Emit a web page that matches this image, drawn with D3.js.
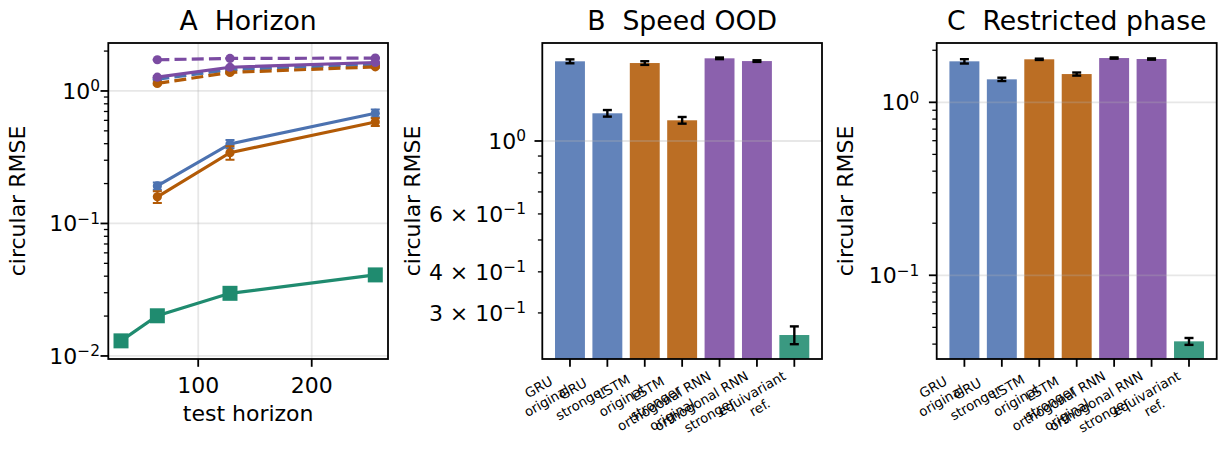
<!DOCTYPE html>
<html>
<head>
<meta charset="utf-8">
<script src="https://cdn.jsdelivr.net/npm/d3@7"></script>
<style>
  html, body { margin: 0; padding: 0; background: #fff; }
  text { font-family: "DejaVu Sans", sans-serif; fill: #000; }
</style>
</head>
<body>
<svg id="fig" width="1225" height="449"></svg>
<script>
// ---------- data ----------
// Panel A: error vs. test horizon
const horizons = [32, 64, 128, 256];
const gruOriginal      = [null, 1.225, 1.45, 1.59];
const gruOriginalErr   = [null, 0.02, 0.02, 0.02];
const gruStronger      = [null, 0.192, 0.398, 0.679];
const gruStrongerErr   = [null, 0.012, 0.028, 0.045];
const lstmOriginal     = [null, 1.14, 1.38, 1.52];
const lstmOriginalErr  = [null, 0.02, 0.02, 0.02];
const lstmStronger     = [null, 0.159, 0.342, 0.583];
const lstmStrongerErr  = [null, 0.016, 0.04, 0.04];
const orthOriginal     = [null, 1.72, 1.76, 1.77];
const orthOriginalErr  = [null, 0.01, 0.01, 0.01];
const orthStronger     = [null, 1.27, 1.51, 1.64];
const orthStrongerErr  = [null, 0.02, 0.02, 0.02];
const equivariant      = [0.0130, 0.0201, 0.0297, 0.0409];

// Panels B and C: one bar per model
const models = [
  ["GRU", "original"],
  ["GRU", "stronger"],
  ["LSTM", "original"],
  ["LSTM", "stronger"],
  ["orthogonal RNN", "original"],
  ["orthogonal RNN", "stronger"],
  ["equivariant", "ref."]
];
const speedOOD        = [1.747, 1.214, 1.726, 1.156, 1.784, 1.75, 0.257];
const speedOODErr     = [0.024, 0.028, 0.022, 0.027, 0.01, 0.01, 0.016];
const restricted      = [1.726, 1.358, 1.773, 1.457, 1.803, 1.78, 0.0415];
const restrictedErr   = [0.05, 0.03, 0.015, 0.03, 0.015, 0.015, 0.0019];

// tick values
const xTicksA = [100, 200];
const yLabeledA = [0.01, 0.1, 1];
const yLabeledB = [0.3, 0.4, 0.6, 1];
const yLabeledC = [0.1, 1];

// ---------- styling ----------
const C = {
  blue: "#4c72b0",
  orange: "#b25a06",
  purple: "#7b4ba2",
  green: "#1f8b6f"
};
const modelColors = [C.blue, C.blue, C.orange, C.orange, C.purple, C.purple, C.green];

const FS_TICK = 22, FS_LABEL = 22, FS_TITLE = 26.7, FS_CAT = 13.3;
const MAJOR_LEN = 7.8, MINOR_LEN = 4.4;

const svg = d3.select("#fig");

const panels = {
  A: { left: 108.3, right: 388, top: 43, bottom: 359, yDom: [Math.pow(10, -2.023), Math.pow(10, 0.362)], labelGap: 8.5, ylabelX: 17.5 },
  B: { left: 542.3, right: 822, top: 43, bottom: 359, yDom: [Math.pow(10, -0.663), Math.pow(10, 0.298)], labelGap: 16.5, ylabelX: 412.5 },
  C: { left: 936.7, right: 1216.7, top: 43, bottom: 359, yDom: [Math.pow(10, -1.484), Math.pow(10, 0.343)], labelGap: 17.5, ylabelX: 845.5 }
};

function logTicks(dom) {
  const out = [];
  const e0 = Math.floor(Math.log10(dom[0])), e1 = Math.ceil(Math.log10(dom[1]));
  for (let e = e0; e <= e1; e++) {
    for (let k = 1; k <= 9; k++) {
      const v = k * Math.pow(10, e);
      if (v >= dom[0] * 0.9999 && v <= dom[1] * 1.0001) out.push({ v, major: k === 1 });
    }
  }
  return out;
}

function sciParts(v) {
  const e = Math.floor(Math.log10(v) + 1e-9);
  const m = Math.round(v / Math.pow(10, e));
  return { m, e };
}

// light grid at the major (decade) ticks
function drawYGrid(g, p, y) {
  const ticks = logTicks(p.yDom);
  g.selectAll(null).data(ticks.filter(t => t.major)).enter().append("line")
    .attr("x1", p.left).attr("x2", p.right)
    .attr("y1", d => y(d.v)).attr("y2", d => y(d.v))
    .attr("stroke", "#b0b0b0").attr("stroke-opacity", 0.3).attr("stroke-width", 1.8);
  return ticks;
}

function drawYTicks(g, p, y, ticks, labeled) {
  g.selectAll(null).data(ticks).enter().append("line")
    .attr("x1", d => p.left - (d.major ? MAJOR_LEN : MINOR_LEN)).attr("x2", p.left)
    .attr("y1", d => y(d.v)).attr("y2", d => y(d.v))
    .attr("stroke", "#000").attr("stroke-width", d => d.major ? 1.8 : 1.3);
  labeled.forEach(v => {
    const { m, e } = sciParts(v);
    const t = g.append("text")
      .attr("x", p.left - MAJOR_LEN - p.labelGap + 8)
      .attr("y", y(v) + 8)
      .attr("text-anchor", "end")
      .attr("font-size", FS_TICK);
    t.append("tspan").text(m === 1 ? "10" : m + " \u00d7 10");
    t.append("tspan").attr("dy", -7.5).attr("font-size", FS_TICK * 0.7)
      .text(e < 0 ? "\u2212" + (-e) : String(e));
  });
}

function frame(g, p) {
  g.append("rect")
    .attr("x", p.left).attr("y", p.top)
    .attr("width", p.right - p.left).attr("height", p.bottom - p.top)
    .attr("fill", "none").attr("stroke", "#000").attr("stroke-width", 1.8);
}

function titleAndYLabel(g, p, title) {
  g.append("text")
    .attr("x", (p.left + p.right) / 2).attr("y", 30)
    .attr("text-anchor", "middle").attr("font-size", FS_TITLE)
    .style("white-space", "pre")
    .text(title);
  g.append("text")
    .attr("transform", `translate(${p.ylabelX},${(p.top + p.bottom) / 2}) rotate(-90)`)
    .attr("text-anchor", "middle").attr("dominant-baseline", "central")
    .attr("font-size", FS_LABEL)
    .text("circular RMSE");
}

// ---------- Panel A ----------
(function () {
  const p = panels.A;
  const g = svg.append("g");
  const x = d3.scaleLinear().domain([20.8, 267.2]).range([p.left, p.right]);
  const y = d3.scaleLog().domain(p.yDom).range([p.bottom, p.top]);

  const clipId = "clipA";
  svg.append("clipPath").attr("id", clipId).append("rect")
    .attr("x", p.left).attr("y", p.top).attr("width", p.right - p.left).attr("height", p.bottom - p.top);

  const ticks = drawYGrid(g, p, y);
  g.selectAll(null).data(xTicksA).enter().append("line")
    .attr("x1", d => x(d)).attr("x2", d => x(d))
    .attr("y1", p.top).attr("y2", p.bottom)
    .attr("stroke", "#b0b0b0").attr("stroke-opacity", 0.3).attr("stroke-width", 1.8);

  const series = [
    { vals: gruOriginal, err: gruOriginalErr, color: C.blue, dash: true },
    { vals: gruStronger, err: gruStrongerErr, color: C.blue, dash: false },
    { vals: lstmOriginal, err: lstmOriginalErr, color: C.orange, dash: true },
    { vals: lstmStronger, err: lstmStrongerErr, color: C.orange, dash: false },
    { vals: orthOriginal, err: orthOriginalErr, color: C.purple, dash: true },
    { vals: orthStronger, err: orthStrongerErr, color: C.purple, dash: false }
  ];

  const plot = g.append("g").attr("clip-path", `url(#${clipId})`);
  const line = d3.line().defined(d => d.v != null).x(d => x(d.h)).y(d => y(d.v));

  series.forEach(s => {
    const pts = horizons.map((h, i) => ({ h, v: s.vals[i], e: s.err[i] })).filter(d => d.v != null);
    plot.append("path").datum(pts)
      .attr("d", line).attr("fill", "none")
      .attr("stroke", s.color).attr("stroke-width", 3.2)
      .attr("stroke-dasharray", s.dash ? "12,5.2" : null);
    const eb = plot.append("g").attr("stroke", s.color).attr("stroke-width", 2);
    pts.forEach(d => {
      const y0 = y(d.v - d.e), y1 = y(d.v + d.e), cx = x(d.h);
      eb.append("line").attr("x1", cx).attr("x2", cx).attr("y1", y0).attr("y2", y1);
      eb.append("line").attr("x1", cx - 4.5).attr("x2", cx + 4.5).attr("y1", y0).attr("y2", y0);
      eb.append("line").attr("x1", cx - 4.5).attr("x2", cx + 4.5).attr("y1", y1).attr("y2", y1);
    });
    plot.selectAll(null).data(pts).enter().append("circle")
      .attr("cx", d => x(d.h)).attr("cy", d => y(d.v)).attr("r", 4.6)
      .attr("fill", s.color);
  });

  // equivariant reference
  const eqPts = horizons.map((h, i) => ({ h, v: equivariant[i] }));
  plot.append("path").datum(eqPts)
    .attr("d", line).attr("fill", "none")
    .attr("stroke", C.green).attr("stroke-width", 3.2);
  const sq = 15;
  plot.selectAll(null).data(eqPts).enter().append("rect")
    .attr("x", d => x(d.h) - sq / 2).attr("y", d => y(d.v) - sq / 2)
    .attr("width", sq).attr("height", sq).attr("fill", C.green);

  drawYTicks(g, p, y, ticks, yLabeledA);

  // x ticks
  g.selectAll(null).data(xTicksA).enter().append("line")
    .attr("x1", d => x(d)).attr("x2", d => x(d))
    .attr("y1", p.bottom).attr("y2", p.bottom + MAJOR_LEN)
    .attr("stroke", "#000").attr("stroke-width", 1.8);
  g.selectAll(null).data(xTicksA).enter().append("text")
    .attr("x", d => x(d)).attr("y", 393)
    .attr("text-anchor", "middle").attr("font-size", FS_TICK)
    .text(d => d);

  g.append("text")
    .attr("x", (p.left + p.right) / 2).attr("y", 421)
    .attr("text-anchor", "middle").attr("font-size", FS_LABEL)
    .text("test horizon");

  frame(g, p);
  titleAndYLabel(g, p, "A  Horizon");
})();

// ---------- bar panels ----------
function barPanel(p, values, errs, labeled, title) {
  const g = svg.append("g");
  const x = d3.scaleLinear().domain([-0.74, 6.74]).range([p.left, p.right]);
  const y = d3.scaleLog().domain(p.yDom).range([p.bottom, p.top]);
  const bw = x(0.4) - x(-0.4);

  g.selectAll(null).data(values).enter().append("rect")
    .attr("x", (d, i) => x(i) - bw / 2)
    .attr("y", d => y(d))
    .attr("width", bw)
    .attr("height", d => p.bottom - y(d))
    .attr("fill", (d, i) => modelColors[i])
    .attr("fill-opacity", 0.88);

  const ticks = drawYGrid(g, p, y);

  const eb = g.append("g").attr("stroke", "#000").attr("stroke-width", 2.4);
  values.forEach((v, i) => {
    const cx = x(i), y0 = y(v - errs[i]), y1 = y(v + errs[i]);
    eb.append("line").attr("x1", cx).attr("x2", cx).attr("y1", y0).attr("y2", y1);
    eb.append("line").attr("x1", cx - 4.5).attr("x2", cx + 4.5).attr("y1", y0).attr("y2", y0);
    eb.append("line").attr("x1", cx - 4.5).attr("x2", cx + 4.5).attr("y1", y1).attr("y2", y1);
  });

  drawYTicks(g, p, y, ticks, labeled);

  // category ticks and rotated two-line labels
  g.selectAll(null).data(models).enter().append("line")
    .attr("x1", (d, i) => x(i)).attr("x2", (d, i) => x(i))
    .attr("y1", p.bottom).attr("y2", p.bottom + MAJOR_LEN)
    .attr("stroke", "#000").attr("stroke-width", 1.8);

  const angle = 30, a = -angle * Math.PI / 180;
  const yTop = p.bottom + MAJOR_LEN + 1.5;
  models.forEach((lines, i) => {
    const grp = g.append("g");
    const t = grp.append("text").attr("font-size", FS_CAT).attr("text-anchor", "middle");
    lines.forEach((ln, k) => t.append("tspan").attr("x", 0).attr("dy", k === 0 ? 0 : "1.2em").text(ln));
    const bb = t.node().getBBox();
    const corners = [[bb.x, bb.y], [bb.x + bb.width, bb.y], [bb.x, bb.y + bb.height], [bb.x + bb.width, bb.y + bb.height]]
      .map(([px, py]) => [px * Math.cos(a) - py * Math.sin(a), px * Math.sin(a) + py * Math.cos(a)]);
    const maxX = d3.max(corners, c => c[0]);
    const minY = d3.min(corners, c => c[1]);
    grp.attr("transform", `translate(${x(i) + 2 - maxX},${yTop - minY}) rotate(${-angle})`);
  });

  frame(g, p);
  titleAndYLabel(g, p, title);
}

barPanel(panels.B, speedOOD, speedOODErr, yLabeledB, "B  Speed OOD");
barPanel(panels.C, restricted, restrictedErr, yLabeledC, "C  Restricted phase");
</script>
</body>
</html>
